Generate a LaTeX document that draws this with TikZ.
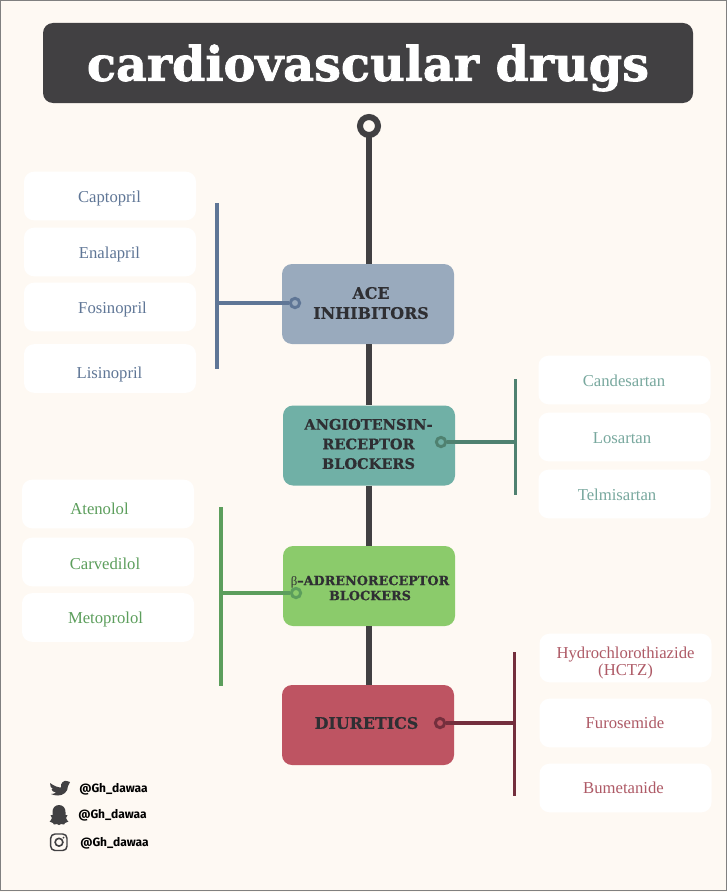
\documentclass[tikz,border=0pt]{standalone}
\usepackage{fontspec}
\setmainfont{DejaVu Serif}
\newfontfamily\bodyf{Liberation Serif}
\newfontfamily\handf{Fira Sans}
\newfontfamily\slabf[UprightFont={* Bold},FakeBold=1.6]{DejaVu Serif}
\newfontfamily\slabl[UprightFont={* Bold},FakeBold=0.6]{DejaVu Serif}
\definecolor{bgc}{HTML}{FEF9F3}
\definecolor{dark}{HTML}{414042}
\definecolor{ace}{HTML}{99AABD}
\definecolor{acel}{HTML}{5F7696}
\definecolor{arb}{HTML}{70B0A6}
\definecolor{arbl}{HTML}{4F8170}
\definecolor{arbt}{HTML}{78A89E}
\definecolor{bet}{HTML}{8BCB6B}
\definecolor{betl}{HTML}{5C9E5C}
\definecolor{diu}{HTML}{BE5462}
\definecolor{diul}{HTML}{742F3D}
\definecolor{diut}{HTML}{AE5A66}
\definecolor{boxtxt}{HTML}{2F2F33}
\tikzset{x=0.75pt,y=-0.75pt,
 cat/.style={rounded corners=7.5pt,minimum width=129pt,minimum height=60pt,inner sep=0pt},
 cattext/.style={align=center,text=boxtxt,inner sep=0pt},
 catbig/.style={cattext,font=\slabl\fontsize{10.9}{14.7}\selectfont},
 drug/.style={fill=white,rounded corners=7.5pt,minimum width=129pt,minimum height=36.5pt,inner sep=0pt},
 lab/.style={align=center,inner sep=0pt,font=\bodyf\fontsize{12.5}{12.6}\selectfont},
 dot/.style={circle,draw,line width=2.2pt,minimum size=7pt,inner sep=0pt},
 branch/.style={line width=2.7pt},
 stem/.style={draw=dark,line width=4.6pt},
 handle/.style={anchor=west,inner sep=0pt,font=\handf\bfseries\fontsize{9}{11}\selectfont,text=black}
}
\begin{document}
\begin{tikzpicture}
\useasboundingbox (0,0) rectangle (727,892);
\fill[bgc] (0,0) rectangle (727,892);
\draw[gray,line width=0.9pt] (0.5,0.5) rectangle (726.5,890.5);
% title
\node[fill=dark,rounded corners=7.5pt,minimum width=487.5pt,minimum height=60pt,inner sep=0pt] (title) at (368,63) {};
\node[text=white,font=\slabf\fontsize{35.8}{40}\selectfont,inner sep=0pt] (titletext) at (368,68) {cardiovascular drugs};
% nodes
\node[circle,draw=dark,line width=4.5pt,minimum size=13.5pt,inner sep=0pt,fill=bgc] (ring) at (369,126) {};
\node[cat,fill=ace] (aceb) at (368,304) {};
\node[cat,fill=arb] (arbb) at (369,445.5) {};
\node[cat,fill=bet] (betb) at (369,586) {};
\node[cat,fill=diu] (diub) at (368,725) {};
% stem
\draw[stem] ([yshift=2pt]ring.south) -- (ring.south |- aceb.north);
\draw[stem] (ring.south |- aceb.south) -- (ring.south |- arbb.north);
\draw[stem] (ring.south |- arbb.south) -- (ring.south |- betb.north);
\draw[stem] (ring.south |- betb.south) -- (ring.south |- diub.north);
\node[catbig,font=\slabl\fontsize{11.9}{15}\selectfont] (acet) at (371,303) {ACE\\INHIBITORS};
\node[catbig] (arbt) at (368.5,444) {ANGIOTENSIN-\\RECEPTOR\\BLOCKERS};
\node[cattext,font=\slabl\fontsize{9.6}{11.3}\selectfont] (bett) at (370,588) {{\bodyf β}–ADRENORECEPTOR\\BLOCKERS};
\node[catbig,font=\slabl\fontsize{11.9}{15}\selectfont] (diut) at (366.5,723) {DIURETICS};
% drugs
\node[drug] (d1) at (110,196) {};
\node[drug] (d2) at (110,252) {};
\node[drug] (d3) at (110,307) {};
\node[drug] (d4) at (110,368.5) {};
\node[drug] (r1) at (624.5,380) {};
\node[drug] (r2) at (624.5,437) {};
\node[drug] (r3) at (624.5,494) {};
\node[drug] (b1) at (108,504) {};
\node[drug] (b2) at (108,562) {};
\node[drug] (b3) at (108,617.5) {};
\node[drug] (u1) at (625.5,658) {};
\node[drug] (u2) at (625.5,723) {};
\node[drug] (u3) at (625.5,788) {};
\begin{scope}[every node/.append style={lab,text=acel}]
\node (dt1) at (109.5,198) {Captopril};
\node (dt2) at (109.5,254) {Enalapril};
\node (dt3) at (112.5,309) {Fosinopril};
\node (dt4) at (109.5,374) {Lisinopril};
\end{scope}
\begin{scope}[every node/.append style={lab,text=arbt}]
\node (rt1) at (624,381) {Candesartan};
\node (rt2) at (622,438) {Losartan};
\node (rt3) at (617,495) {Telmisartan};
\end{scope}
\begin{scope}[every node/.append style={lab,text=betl}]
\node (bt1) at (99.5,509) {Atenolol};
\node (bt2) at (105,564) {Carvedilol};
\node (bt3) at (105.5,619.5) {Metoprolol};
\end{scope}
\begin{scope}[every node/.append style={lab,text=diut}]
\node (ut1) at (625.5,663) {Hydrochlorothiazide\\(HCTZ)};
\node (ut2) at (625,723) {Furosemide};
\node (ut3) at (623.5,788) {Bumetanide};
\end{scope}
% branches
\node[dot,draw=acel] (ad) at (295,303) {};
\coordinate (at) at (217,203); \coordinate (ab) at (217,369); \coordinate (am) at (217,303);
\draw[acel,branch] (at) -- (ab);
\draw[acel,branch] (am) -- (ad.west);
\node[dot,draw=arbl] (rd) at (441,442) {};
\coordinate (rt) at (515.5,379); \coordinate (rb) at (515.5,495); \coordinate (rm) at (515.5,442);
\draw[arbl,branch] (rt) -- (rb);
\draw[arbl,branch] (rm) -- (rd.east);
\node[dot,draw=betl] (bd) at (296,593) {};
\coordinate (bt) at (221,507); \coordinate (bb) at (221,686); \coordinate (bm) at (221,593);
\draw[betl,branch] (bt) -- (bb);
\draw[betl,branch] (bm) -- (bd.west);
\node[dot,draw=diul] (ud) at (440,723) {};
\coordinate (ut) at (514.5,652); \coordinate (ub) at (514.5,796); \coordinate (um) at (514.5,723);
\draw[diul,branch] (ut) -- (ub);
\draw[diul,branch] (um) -- (ud.east);
% social
\node[handle] (h1) at (79,789) {@Gh\_dawaa};
\node[handle] (h2) at (78,815) {@Gh\_dawaa};
\node[handle] (h3) at (80,843) {@Gh\_dawaa};
% twitter
\fill[dark] (50,783) .. controls (54,786) and (58,787.5) .. (61,787.5)
 .. controls (60,783) and (64,780) .. (67,781) .. controls (68,781) and (69,782) .. (70,782)
 -- (68,786) .. controls (68,792) and (63,795.5) .. (58,795.5)
 .. controls (55,795.5) and (53,795) .. (51,794) .. controls (53,794) and (55,793.5) .. (56,792.5)
 .. controls (53,792) and (52,791) .. (51.5,789) -- (53,789) .. controls (51,788) and (50,786) .. (50,783) -- cycle;
% snapchat
\fill[dark] (59,805) .. controls (63,805) and (65.5,808) .. (65.5,812)
 -- (65.5,815) -- (67.5,815) -- (66,818) .. controls (66.5,820) and (68,821) .. (68.5,821.5)
 -- (65,823) -- (64,824.5) -- (61,824) -- (59,825) -- (57,824) -- (54,824.5) -- (53,823) -- (49.5,821.5)
 .. controls (50,821) and (51.5,820) .. (52,818) -- (50.5,815) -- (52.5,815) -- (52.5,812)
 .. controls (52.5,808) and (55,805) .. (59,805) -- cycle;
% instagram
\draw[dark,line width=1.1pt,rounded corners=3.2pt] (50.7,834) rectangle (67,850.5);
\draw[dark,line width=1.2pt] (59,842.2) circle (3.9);
\fill[dark] (63.5,837.5) circle (1);
\end{tikzpicture}
\end{document}
